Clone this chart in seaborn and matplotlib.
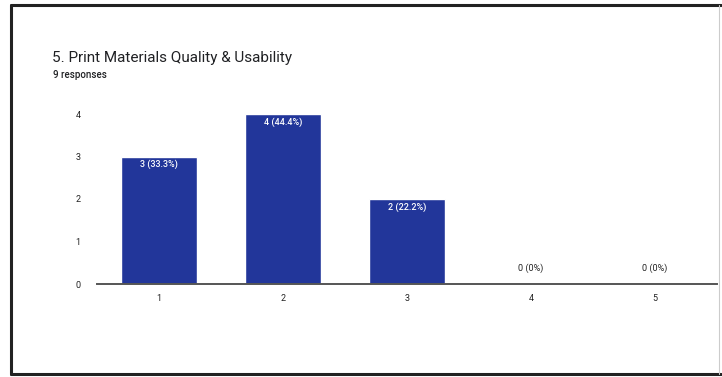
import matplotlib
matplotlib.use("Agg")
import matplotlib.pyplot as plt
from matplotlib.lines import Line2D
import seaborn as sns
import pandas as pd

# Survey results: rating -> number of responses
ratings = ["1", "2", "3", "4", "5"]
counts = [3, 4, 2, 0, 0]
percents = ["33.3%", "44.4%", "22.2%", "0%", "0%"]
y_ticks = [0, 1, 2, 3, 4]
title = "5. Print Materials Quality & Usability"
subtitle = "9 responses"

sns.set_theme(style="white")
plt.rcParams["font.family"] = ["Roboto", "DejaVu Sans"]

BAR_COLOR = "#22369a"
TEXT_DARK = "#222222"

df = pd.DataFrame({"rating": ratings, "count": counts})

fig = plt.figure(figsize=(7.22, 3.77), dpi=100)
ax = fig.add_axes([97 / 722, (377 - 284) / 377, (717 - 97) / 722, (284 - 114) / 377])

sns.barplot(data=df, x="rating", y="count", color=BAR_COLOR, width=0.61,
            saturation=1, ax=ax, zorder=2)

ax.set_xlim(-0.5, 4.5)
ax.set_ylim(0, 4)
ax.set_yticks(y_ticks)
ax.set_xlabel("")
ax.set_ylabel("")
for s in ["top", "right", "left"]:
    ax.spines[s].set_visible(False)
ax.spines["bottom"].set_color("#555555")
ax.spines["bottom"].set_linewidth(1.4)
ax.tick_params(axis="both", length=0, labelsize=6.5, colors=TEXT_DARK)
ax.tick_params(axis="x", pad=7)
ax.tick_params(axis="y", pad=12)

# Value labels: inside the bar top for non-zero bars, above the baseline otherwise
for i, (c, p) in enumerate(zip(counts, percents)):
    label = f"{c} ({p})"
    if c > 0:
        ax.text(i, c - 0.08, label, ha="center", va="top", fontsize=6.5,
                color="white", fontweight="medium", zorder=3)
    else:
        ax.text(i, c + 0.25, label, ha="center", va="bottom", fontsize=6.5,
                color=TEXT_DARK, zorder=3)

fig.text(52 / 722, 1 - 62 / 377, title, fontsize=11, color="#202124",
         ha="left", va="baseline")
fig.text(53 / 722, 1 - 78 / 377, subtitle, fontsize=7, color="#202124",
         fontweight="medium", ha="left", va="baseline")

# Card border
W, H = 722, 377
def fx(x):
    return x / W
def fy(y):
    return 1 - y / H
fig.add_artist(Line2D([fx(11), fx(721)], [fy(5), fy(5)], color="#222222", lw=2.2))
fig.add_artist(Line2D([fx(11), fx(11)], [fy(5), fy(374)], color="#222222", lw=2.2))
fig.add_artist(Line2D([fx(11), fx(721)], [fy(374), fy(374)], color="#222222", lw=2.2))
fig.add_artist(Line2D([fx(719), fx(719)], [fy(5), fy(374)], color="#cccccc", lw=0.8))

fig.savefig("out.png", dpi=100)
